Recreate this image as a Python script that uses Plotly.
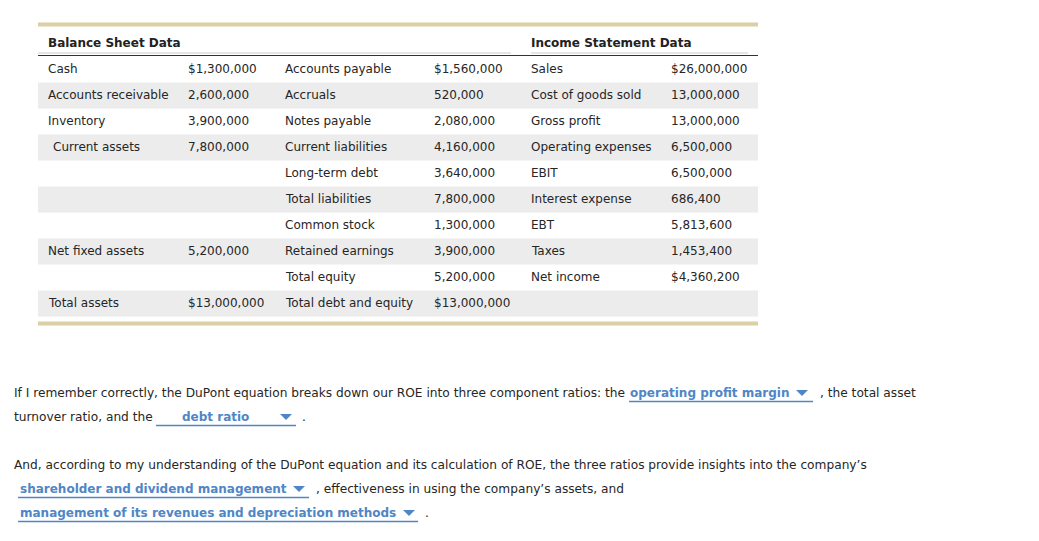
import plotly.graph_objects as go

# ---------------- data ----------------
asset_labels = ["Cash", "Accounts receivable", "Inventory", " Current assets", "", "", "",
                "Net fixed assets", "", "Total assets"]
asset_values = [1300000, 2600000, 3900000, 7800000, None, None, None, 5200000, None, 13000000]
asset_dollar = [True, False, False, False, False, False, False, False, False, True]

liab_labels = ["Accounts payable", "Accruals", "Notes payable", "Current liabilities",
               "Long-term debt", "Total liabilities", "Common stock", "Retained earnings",
               "Total equity", "Total debt and equity"]
liab_values = [1560000, 520000, 2080000, 4160000, 3640000, 7800000, 1300000, 3900000,
               5200000, 13000000]
liab_dollar = [True, False, False, False, False, False, False, False, False, True]

inc_labels = ["Sales", "Cost of goods sold", "Gross profit", "Operating expenses", "EBIT",
              "Interest expense", "EBT", "Taxes", "Net income", ""]
inc_values = [26000000, 13000000, 13000000, 6500000, 6500000, 686400, 5813600, 1453400,
              4360200, None]
inc_dollar = [True, False, False, False, False, False, False, False, True, False]

headers = ["Balance Sheet Data", "Income Statement Data"]

para1_a = "If I remember correctly, the DuPont equation breaks down our ROE into three component ratios: the"
drop1 = "operating profit margin"
para1_b = ", the total asset"
para1_c = "turnover ratio, and the"
drop2 = "debt ratio"
para2_a = "And, according to my understanding of the DuPont equation and its calculation of ROE, the three ratios provide insights into the company\u2019s"
drop3 = "shareholder and dividend management"
para2_b = ", effectiveness in using the company\u2019s assets, and"
drop4 = "management of its revenues and depreciation methods"

# ---------------- styling ----------------
FONT = "DejaVu Sans"
TXT = "#262626"
BLUE = "#4f86c6"
GOLD = "#dccfa6"
STRIPE = "#ececec"
FS = 12
FS_P = 12.2
OFF = 8  # page body margin

def fmt(v, d):
    if v is None:
        return ""
    s = f"{v:,.0f}"
    return ("$" + s) if d else s


fig = go.Figure()
shapes = []
ann = []

T_LEFT, T_RIGHT = 38, 758
ROW0, ROWH = 56, 26
n = len(liab_labels)

# gold bars
shapes.append(dict(type="rect", x0=T_LEFT, x1=T_RIGHT, y0=22.5, y1=26.5, fillcolor=GOLD, line_width=0, layer="below"))
shapes.append(dict(type="rect", x0=T_LEFT, x1=T_RIGHT, y0=321.5, y1=325.5, fillcolor=GOLD, line_width=0, layer="below"))

# stripes
for i in range(n):
    if i % 2 == 1:
        shapes.append(dict(type="rect", x0=T_LEFT, x1=T_RIGHT, y0=ROW0 + ROWH * i + 0.5,
                           y1=ROW0 + ROWH * (i + 1) + 0.5, fillcolor=STRIPE, line_width=0, layer="below"))

# header lines
shapes.append(dict(type="line", x0=T_LEFT, x1=511, y0=53, y1=53, line=dict(color="#cccccc", width=1)))
shapes.append(dict(type="line", x0=531, x1=748, y0=53, y1=53, line=dict(color="#cccccc", width=1)))
shapes.append(dict(type="line", x0=T_LEFT, x1=T_RIGHT, y0=55.5, y1=55.5, line=dict(color="#333333", width=1)))

def base(x, y, t, color, size=FS):
    ann.append(dict(x=x, y=y, text=t, xanchor="left", yanchor="middle", showarrow=False,
                    borderpad=0, borderwidth=0,
                    font=dict(family=FONT, size=size, color=color)))

# headers
for txt, x in zip(headers, [48, 531]):
    base(x, 43, f"<b>{txt}</b>", "#222222")

cols = [(48, asset_labels, None, None), (188, None, asset_values, asset_dollar),
        (285, liab_labels, None, None), (434, None, liab_values, liab_dollar),
        (531, inc_labels, None, None), (671, None, inc_values, inc_dollar)]
for x, labels, vals, dol in cols:
    for i in range(n):
        if labels is not None:
            t = labels[i]
            xx = x + (5 if t.startswith(" ") else 0)
            t = t.strip()
        else:
            t = fmt(vals[i], dol[i])
            xx = x
        if not t:
            continue
        base(xx, ROW0 + ROWH * i + 13, t, TXT)


def plain(x, y, t):
    base(x, y, t, TXT, FS_P)


def dropdown(x0, x1, tx, y, t, tri):
    base(tx, y, f"<b>{t}</b>", BLUE)
    shapes.append(dict(type="line", x0=x0, x1=x1, y0=y + 8.5, y1=y + 8.5, line=dict(color=BLUE, width=1.5)))
    shapes.append(dict(type="path", path=f"M {tri-6} {y-3} L {tri+6} {y-3} L {tri} {y+3} Z",
                       fillcolor=BLUE, line_width=0))


plain(14, 393, para1_a)
dropdown(629, 813, 630, 393, drop1, 802)
plain(820, 393, para1_b)
plain(14, 417, para1_c)
dropdown(156, 296, 182, 417, drop2, 286)
plain(302, 417, ".")
plain(14, 465, para2_a)
dropdown(18, 309, 20, 489, drop3, 299)
plain(316, 489, para2_b)
dropdown(18, 418, 20, 513, drop4, 409)
plain(425, 513, ".")

fig.update_layout(
    width=1039, height=541, margin=dict(l=0, r=0, t=0, b=0),
    paper_bgcolor="white", plot_bgcolor="white",
    xaxis=dict(range=[OFF, 1039 + OFF], visible=False, fixedrange=True),
    yaxis=dict(range=[541 + OFF, OFF], visible=False, fixedrange=True),
    shapes=shapes, annotations=ann, showlegend=False,
)
fig.write_html("out.html")
